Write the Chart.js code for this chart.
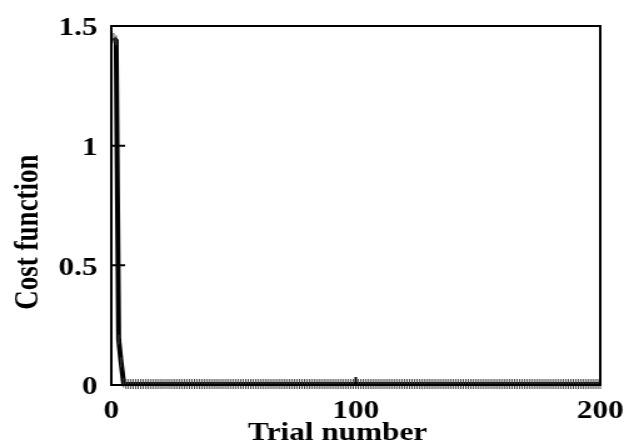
<!DOCTYPE html>
<html>
<head>
<meta charset="utf-8">
<script src="https://cdn.jsdelivr.net/npm/chart.js@4/dist/chart.umd.min.js"></script>
<style>
    html, body { margin: 0; padding: 0; background: #fff; }
    #grafico { display: block; }
</style>
</head>
<body>
<canvas id="grafico" width="511" height="444" style="width:639px;height:444px"></canvas>
<script>
// Cost per trial (trial 1 .. 200)
var cost = [
    1.45, 1.44, 0.19, 0.095, 0.01, 0.004, 0.004, 0.004, 0.004, 0.004, 0.004, 0.004, 0.004, 0.004, 0.004, 0.004, 0.004, 0.004, 0.004, 0.004,
    0.004, 0.004, 0.004, 0.004, 0.004, 0.004, 0.004, 0.004, 0.004, 0.004, 0.004, 0.004, 0.004, 0.004, 0.004, 0.004, 0.004, 0.004, 0.004, 0.004,
    0.004, 0.004, 0.004, 0.004, 0.004, 0.004, 0.004, 0.004, 0.004, 0.004, 0.004, 0.004, 0.004, 0.004, 0.004, 0.004, 0.004, 0.004, 0.004, 0.004,
    0.004, 0.004, 0.004, 0.004, 0.004, 0.004, 0.004, 0.004, 0.004, 0.004, 0.004, 0.004, 0.004, 0.004, 0.004, 0.004, 0.004, 0.004, 0.004, 0.004,
    0.004, 0.004, 0.004, 0.004, 0.004, 0.004, 0.004, 0.004, 0.004, 0.004, 0.004, 0.004, 0.004, 0.004, 0.004, 0.004, 0.004, 0.004, 0.004, 0.004,
    0.004, 0.004, 0.004, 0.004, 0.004, 0.004, 0.004, 0.004, 0.004, 0.004, 0.004, 0.004, 0.004, 0.004, 0.004, 0.004, 0.004, 0.004, 0.004, 0.004,
    0.004, 0.004, 0.004, 0.004, 0.004, 0.004, 0.004, 0.004, 0.004, 0.004, 0.004, 0.004, 0.004, 0.004, 0.004, 0.004, 0.004, 0.004, 0.004, 0.004,
    0.004, 0.004, 0.004, 0.004, 0.004, 0.004, 0.004, 0.004, 0.004, 0.004, 0.004, 0.004, 0.004, 0.004, 0.004, 0.004, 0.004, 0.004, 0.004, 0.004,
    0.004, 0.004, 0.004, 0.004, 0.004, 0.004, 0.004, 0.004, 0.004, 0.004, 0.004, 0.004, 0.004, 0.004, 0.004, 0.004, 0.004, 0.004, 0.004, 0.004,
    0.004, 0.004, 0.004, 0.004, 0.004, 0.004, 0.004, 0.004, 0.004, 0.004, 0.004, 0.004, 0.004, 0.004, 0.004, 0.004, 0.004, 0.004, 0.004, 0.004
];
var xTicks = [0, 100, 200];
var yTicks = [0, 0.5, 1, 1.5];
var xTitle = "Trial number";
var yTitle = "Cost function";

var fuente = '"Liberation Serif", "Times New Roman", serif';

// box around the plot, inward ticks and axis titles
var marco = {
    id: 'marco',
    afterDatasetsDraw: function (chart) {
        var ctx = chart.ctx;
        var area = chart.chartArea;
        var sx = chart.scales.x;
        var sy = chart.scales.y;

        ctx.save();
        ctx.strokeStyle = '#000';
        ctx.lineWidth = 2;
        ctx.strokeRect(area.left, area.top, area.right - area.left, area.bottom - area.top);

        ctx.beginPath();
        xTicks.forEach(function (v) {
            var px = sx.getPixelForValue(v);
            ctx.moveTo(px, area.bottom);
            ctx.lineTo(px, area.bottom - 8);
        });
        yTicks.forEach(function (v) {
            var py = sy.getPixelForValue(v);
            ctx.moveTo(area.left, py);
            ctx.lineTo(area.left + 11, py);
        });
        ctx.stroke();

        ctx.fillStyle = '#000';
        ctx.font = 'bold 25px ' + fuente;
        ctx.textAlign = 'center';
        ctx.textBaseline = 'alphabetic';
        ctx.fillText(xTitle, 270, 440);

        ctx.font = 'bold 27px ' + fuente;
        ctx.translate(23, 232);
        ctx.rotate(-Math.PI / 2);
        ctx.textBaseline = 'middle';
        ctx.fillText(yTitle, 0, 0);
        ctx.restore();
    }
};

var puntos = cost.map(function (c, i) {
    return { x: i + 1, y: c };
});

var chart = new Chart(document.getElementById('grafico').getContext('2d'), {
    type: 'line',
    data: {
        datasets: [{
            data: puntos,
            borderColor: '#000',
            borderWidth: 4,
            tension: 0,
            pointStyle: 'line',
            rotation: 90,
            pointRadius: 5,
            pointBorderWidth: 1,
            pointBorderColor: '#444',
            pointBackgroundColor: '#444',
            pointHoverRadius: 5,
            clip: false
        }]
    },
    options: {
        responsive: false,
        animation: false,
        events: [],
        layout: { padding: { left: 0, right: 31, top: 18, bottom: 0 } },
        plugins: {
            legend: { display: false },
            tooltip: { enabled: false }
        },
        scales: {
            x: {
                type: 'linear',
                min: 0,
                max: 200,
                afterFit: function (scale) { scale.height = 59; },
                afterBuildTicks: function (scale) {
                    scale.ticks = xTicks.map(function (v) { return { value: v }; });
                },
                grid: { display: false, drawTicks: false },
                border: { display: false },
                ticks: {
                    padding: 12,
                    maxRotation: 0,
                    color: '#000',
                    font: { family: fuente, size: 25, weight: 'bold' },
                    callback: function (value) { return String(value); }
                }
            },
            y: {
                min: 0,
                max: 1.5,
                afterFit: function (scale) { scale.width = 89; },
                afterBuildTicks: function (scale) {
                    scale.ticks = yTicks.map(function (v) { return { value: v }; });
                },
                grid: { display: false, drawTicks: false },
                border: { display: false },
                ticks: {
                    padding: 11,
                    labelOffset: 3,
                    color: '#000',
                    font: { family: fuente, size: 25, weight: 'bold' },
                    callback: function (value) { return String(value); }
                }
            }
        }
    },
    plugins: [marco]
});
</script>
</body>
</html>
